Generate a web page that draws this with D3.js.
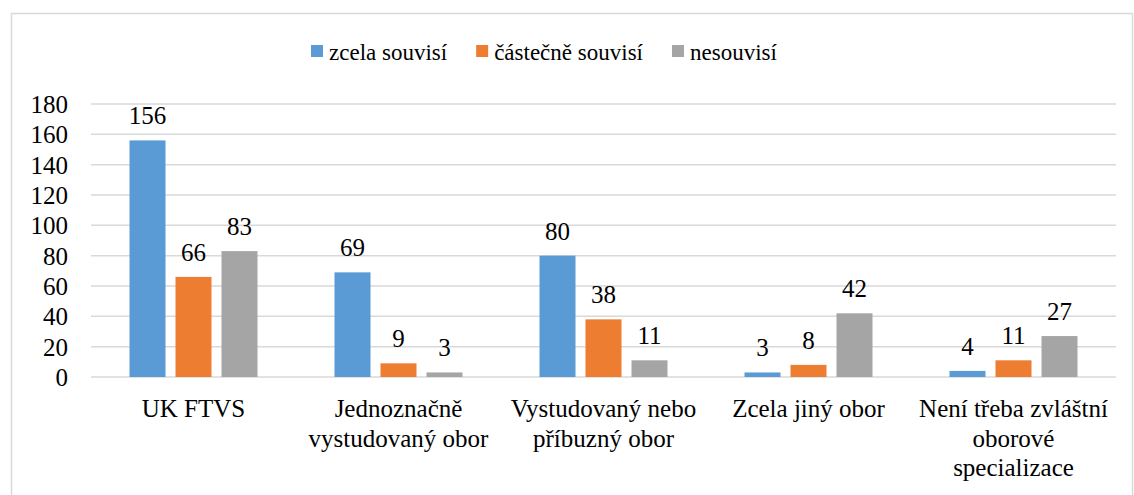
<!DOCTYPE html>
<html>
<head>
<meta charset="utf-8">
<script src="https://cdn.jsdelivr.net/npm/d3@7"></script>
</head>
<body style="margin:0">
<div id="chart"></div>
<script>
const categories = [
    ["UK FTVS"],
    ["Jednoznačně", "vystudovaný obor"],
    ["Vystudovaný nebo", "příbuzný obor"],
    ["Zcela jiný obor"],
    ["Není třeba zvláštní", "oborové", "specializace"]
];
const seriesNames = ["zcela souvisí", "částečně souvisí", "nesouvisí"];
const zcelaSouvisi = [156, 69, 80, 3, 4];
const castecneSouvisi = [66, 9, 38, 8, 11];
const nesouvisi = [83, 3, 11, 42, 27];
const yTicks = [0, 20, 40, 60, 80, 100, 120, 140, 160, 180];
const colors = ["#5b9bd5", "#ed7d31", "#a5a5a5"];

const seriesValues = [zcelaSouvisi, castecneSouvisi, nesouvisi];

const width = 1134, height = 495;
const plot = { left: 91, right: 1116, top: 104, bottom: 377 };

const svg = d3.select("#chart")
    .append("svg")
    .attr("width", width)
    .attr("height", height);

function serif(sel, size, fam) {
    return sel.attr("font-size", size).style("font-family", fam).attr("fill", "#000");
}

// outer frame
svg.append("rect")
    .attr("x", 11.5).attr("y", 13.5)
    .attr("width", 1121).attr("height", 500)
    .attr("fill", "none")
    .attr("stroke", "#d9d9d9")
    .attr("stroke-width", 1.5);

const x0 = d3.scaleBand()
    .domain(d3.range(categories.length))
    .range([plot.left, plot.right])
    .padding(0);

const x1 = d3.scaleBand()
    .domain(d3.range(seriesNames.length))
    .range([0, x0.bandwidth()])
    .paddingInner(10 / 46)
    .paddingOuter(0.837);

const y = d3.scaleLinear()
    .domain([0, 180])
    .range([plot.bottom, plot.top]);

// gridlines
svg.append("g")
    .selectAll("line")
    .data(yTicks)
    .enter()
    .append("line")
    .attr("x1", plot.left)
    .attr("x2", plot.right)
    .attr("y1", d => y(d))
    .attr("y2", d => y(d))
    .attr("stroke", "#d9d9d9")
    .attr("stroke-width", 1.5);

// y axis labels
const yAxis = svg.append("g")
    .attr("transform", `translate(${plot.left - 23}, 0)`)
    .call(d3.axisLeft(y).tickValues(yTicks).tickSize(0).tickPadding(0));
yAxis.select(".domain").remove();
serif(yAxis.selectAll("text"), 25, "serif").attr("dy", "0.34em");

// bars
const groups = svg.selectAll("g.cat")
    .data(categories.map((c, i) => i))
    .enter()
    .append("g")
    .attr("class", "cat")
    .attr("transform", i => `translate(${x0(i)}, 0)`);

groups.selectAll("rect")
    .data(i => seriesValues.map((vals, s) => ({ s, v: vals[i] })))
    .enter()
    .append("rect")
    .attr("x", d => x1(d.s))
    .attr("y", d => y(d.v))
    .attr("width", x1.bandwidth())
    .attr("height", d => y(0) - y(d.v))
    .attr("fill", d => colors[d.s]);

serif(groups.selectAll("text.val")
    .data(i => seriesValues.map((vals, s) => ({ s, v: vals[i] })))
    .enter()
    .append("text")
    .attr("class", "val"), 25, `"Tinos"`)
    .attr("x", d => x1(d.s) + x1.bandwidth() / 2)
    .attr("y", d => y(d.v) - 16)
    .attr("text-anchor", "middle")
    .text(d => d.v);

// category labels
const catLabels = serif(svg.append("g")
    .selectAll("text")
    .data(categories)
    .enter()
    .append("text"), 25, `"Times New Roman"`)
    .attr("text-anchor", "middle")
    .attr("x", (d, i) => x0(i) + x0.bandwidth() / 2)
    .attr("y", 417);

catLabels.selectAll("tspan")
    .data(d => d)
    .enter()
    .append("tspan")
    .attr("x", function() { return d3.select(this.parentNode).attr("x"); })
    .attr("dy", (d, i) => i === 0 ? 0 : 29.5)
    .text(d => d);

// legend
const legend = svg.append("g");
let lx = 311;
seriesNames.forEach((name, i) => {
    legend.append("rect")
        .attr("x", lx).attr("y", 45)
        .attr("width", 12).attr("height", 12)
        .attr("fill", colors[i]);
    const t = serif(legend.append("text"), 23, `"Liberation Serif"`)
        .attr("x", lx + 18)
        .attr("y", 60)
        .text(name);
    lx += 18 + t.node().getComputedTextLength() + 29;
});
</script>
</body>
</html>
